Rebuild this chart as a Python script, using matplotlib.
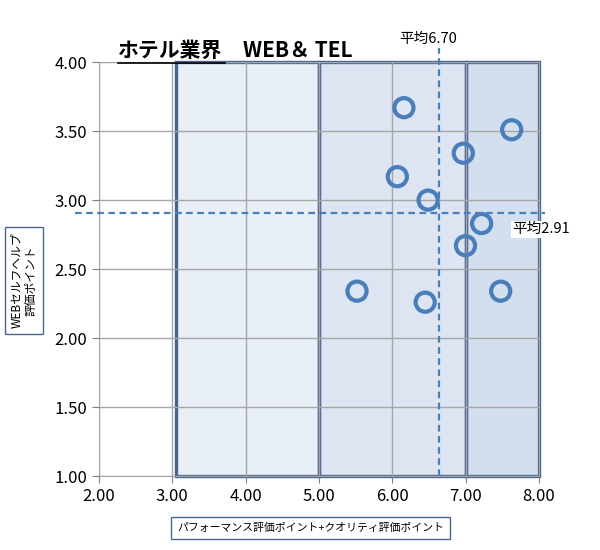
import matplotlib.pyplot as plt
from matplotlib.patches import Rectangle

plt.rcParams['font.family'] = ['Noto Sans CJK JP', 'DejaVu Sans']

# 散布図データ (x: パフォーマンス+クオリティ, y: WEBセルフヘルプ)
x_values = [6.16, 7.63, 6.97, 6.07, 6.49, 7.22, 7.00, 5.52, 6.45, 7.48]
y_values = [3.67, 3.51, 3.34, 3.17, 3.00, 2.83, 2.67, 2.34, 2.26, 2.34]
avg_x_label = 6.70
avg_x_line = 6.64
avg_y = 2.91
# 背景ゾーン (開始, 終了, 色)
zones = [(3.05, 5.0, '#e9eff7'), (5.0, 7.0, '#dce5f1'), (7.0, 8.0, '#d3dfee')]
x_ticks = [2, 3, 4, 5, 6, 7, 8]
y_ticks = [1.0, 1.5, 2.0, 2.5, 3.0, 3.5, 4.0]

fig = plt.figure(figsize=(6, 5.5), dpi=100)
ax = fig.add_axes([0.165, 0.1345, 0.733, 0.7525])
ax.set_xlim(2, 8)
ax.set_ylim(1, 4)

for x0, x1, c in zones:
    ax.add_patch(Rectangle((x0, 1.0), x1 - x0, 3.0, facecolor=c, edgecolor='none', zorder=0))

ax.set_axisbelow(False)
ax.set_xticks(x_ticks)
ax.set_yticks(y_ticks)
ax.grid(True, color='#a6a6a6', linewidth=1.0, zorder=1)

for x0, x1, c in zones:
    ax.add_patch(Rectangle((x0, 1.0), x1 - x0, 3.0, facecolor='none', edgecolor='#46638f',
                           linewidth=2.4, zorder=2, clip_on=False))

# 平均線
ax.plot([avg_x_line, avg_x_line], [1.0, 4.10], linestyle=(0, (3, 2)), color='#4a7ebb',
        linewidth=1.6, clip_on=False, zorder=3)
ax.plot([1.67, 8.08], [avg_y, avg_y], linestyle=(0, (3, 2)), color='#4a7ebb',
        linewidth=1.6, clip_on=False, zorder=3)

ax.scatter(x_values, y_values, s=190, facecolors='none', edgecolors='#4a7ebb',
           linewidths=3, zorder=4)

ax.text(6.49, 4.17, f'平均{avg_x_label:.2f}', fontsize=10.5, ha='center', va='center')
ax.text(8.03, avg_y - 0.12, f'平均{avg_y:.2f}', fontsize=10.5, ha='center', va='center',
        bbox=dict(facecolor='white', edgecolor='none', pad=1), clip_on=False, zorder=5)

for s in ax.spines.values():
    s.set_color('#a6a6a6')
ax.tick_params(colors='#808080', labelcolor='black', labelsize=12, length=5)
ax.set_xticklabels([f'{v:.2f}' for v in x_ticks])
ax.set_yticklabels([f'{v:.2f}' for v in y_ticks])

fig.text(0.197, 0.897, 'ホテル業界', fontsize=15, fontweight='bold', ha='left', va='baseline')
fig.add_artist(plt.Line2D([0.197, 0.375], [0.886, 0.886], color='black', linewidth=1.2))
fig.text(0.405, 0.897, 'WEB＆ TEL', fontsize=15, fontweight='bold', ha='left', va='baseline')

fig.text(0.518, 0.04, 'パフォーマンス評価ポイント+クオリティ評価ポイント', fontsize=7.8, ha='center',
         va='center', bbox=dict(facecolor='white', edgecolor='#4a6794', linewidth=1,
                                boxstyle='square,pad=0.55'))
fig.text(0.04, 0.49, 'WEBセルフヘルプ\n評価ポイント', fontsize=8.5, ha='center', va='center',
         rotation=90, linespacing=1.1,
         bbox=dict(facecolor='white', edgecolor='#4a6794', linewidth=1, boxstyle='square,pad=0.5'))

fig.savefig('out.png', dpi=100)
